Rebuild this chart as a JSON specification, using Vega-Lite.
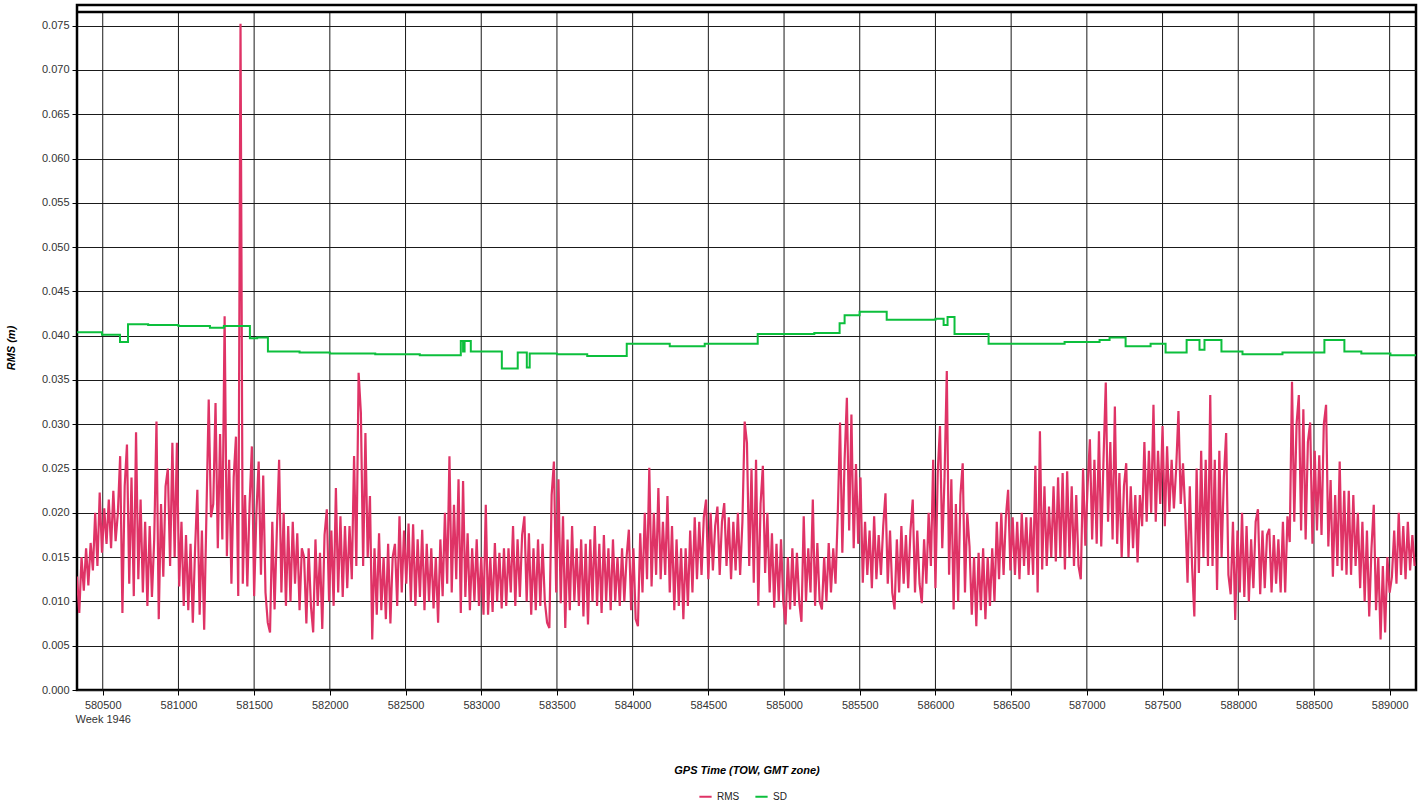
{
  "$schema": "https://vega.github.io/schema/vega-lite/v6.json",
  "width": 1339,
  "height": 685,
  "autosize": "none",
  "padding": {"left": 77, "top": 5, "right": 9, "bottom": 114},
  "background": "white",
  "config": {
    "font": "Liberation Sans",
    "view": {"stroke": "#000000", "strokeWidth": 2.5},
    "axisX": {
      "titleFontStyle": "italic", "titleFontWeight": "bold", "titleFontSize": 11, "titleColor": "#000000", "titlePadding": 40,
      "labelFontSize": 11, "labelColor": "#333333", "labelFlush": false, "labelOverlap": false, "labelPadding": 4, "labelLineHeight": 14,
      "tickSize": 5, "tickColor": "#000000", "domain": false, "grid": false
    },
    "axisY": {
      "titleFontStyle": "italic", "titleFontWeight": "bold", "titleFontSize": 11, "titleColor": "#000000", "titlePadding": 25,
      "labelFontSize": 11, "labelColor": "#333333", "labelPadding": 3,
      "tickSize": 5, "tickColor": "#000000", "domain": false,
      "grid": true, "gridColor": "#1a1a1a", "gridWidth": 1
    }
  },
  "datasets": {
    "grid": [{"t":580500},{"t":581000},{"t":581500},{"t":582000},{"t":582500},{"t":583000},{"t":583500},{"t":584000},{"t":584500},{"t":585000},{"t":585500},{"t":586000},{"t":586500},{"t":587000},{"t":587500},{"t":588000},{"t":588500},{"t":589000}],
    "sd": [
      {"t":580330,"v":0.0404},{"t":580495,"v":0.0401},{"t":580614,"v":0.0393},{"t":580667,"v":0.0413},{"t":580800,"v":0.0412},{"t":581000,"v":0.0411},{"t":581208,"v":0.0409},{"t":581300,"v":0.0411},{"t":581472,"v":0.0397},{"t":581520,"v":0.0398},{"t":581591,"v":0.0382},{"t":581800,"v":0.0381},{"t":582000,"v":0.0380},{"t":582300,"v":0.0379},{"t":582594,"v":0.0378},{"t":582865,"v":0.0394},{"t":582880,"v":0.0382},{"t":582890,"v":0.0394},{"t":582931,"v":0.0382},{"t":583136,"v":0.0363},{"t":583241,"v":0.0381},{"t":583301,"v":0.0364},{"t":583320,"v":0.0380},{"t":583500,"v":0.0379},{"t":583700,"v":0.0377},{"t":583961,"v":0.0391},{"t":584245,"v":0.0388},{"t":584476,"v":0.0391},{"t":584826,"v":0.0402},{"t":585200,"v":0.0403},{"t":585367,"v":0.0414},{"t":585400,"v":0.0423},{"t":585499,"v":0.0427},{"t":585678,"v":0.0418},{"t":586000,"v":0.0419},{"t":586054,"v":0.0412},{"t":586080,"v":0.0421},{"t":586126,"v":0.0402},{"t":586351,"v":0.0391},{"t":586853,"v":0.0393},{"t":587084,"v":0.0395},{"t":587150,"v":0.0398},{"t":587256,"v":0.0388},{"t":587421,"v":0.0391},{"t":587520,"v":0.0381},{"t":587659,"v":0.0395},{"t":587744,"v":0.0384},{"t":587777,"v":0.0395},{"t":587889,"v":0.0382},{"t":588028,"v":0.0379},{"t":588292,"v":0.0381},{"t":588569,"v":0.0395},{"t":588701,"v":0.0382},{"t":588813,"v":0.0380},{"t":589005,"v":0.0378},{"t":589174,"v":0.0378}
    ],
    "rms": [
      {"t":580330,"v":0.0128},{"t":580345,"v":0.0087},{"t":580360,"v":0.0150},{"t":580375,"v":0.0112},{"t":580390,"v":0.0160},{"t":580405,"v":0.0118},{"t":580420,"v":0.0166},{"t":580435,"v":0.0135},{"t":580450,"v":0.0200},{"t":580465,"v":0.0140},
      {"t":580480,"v":0.0223},{"t":580495,"v":0.0155},{"t":580510,"v":0.0205},{"t":580525,"v":0.0165},{"t":580540,"v":0.0215},{"t":580555,"v":0.0160},{"t":580570,"v":0.0225},{"t":580585,"v":0.0168},{"t":580600,"v":0.0200},{"t":580615,"v":0.0264},
      {"t":580630,"v":0.0087},{"t":580645,"v":0.0230},{"t":580660,"v":0.0277},{"t":580675,"v":0.0120},{"t":580690,"v":0.0240},{"t":580705,"v":0.0106},{"t":580720,"v":0.0291},{"t":580735,"v":0.0125},{"t":580750,"v":0.0215},{"t":580765,"v":0.0110},
      {"t":580780,"v":0.0190},{"t":580795,"v":0.0095},{"t":580810,"v":0.0185},{"t":580825,"v":0.0105},{"t":580840,"v":0.0170},{"t":580855,"v":0.0303},{"t":580870,"v":0.0080},{"t":580885,"v":0.0210},{"t":580900,"v":0.0128},{"t":580915,"v":0.0230},
      {"t":580930,"v":0.0250},{"t":580945,"v":0.0140},{"t":580960,"v":0.0279},{"t":580975,"v":0.0150},{"t":580990,"v":0.0279},{"t":581005,"v":0.0117},{"t":581020,"v":0.0190},{"t":581035,"v":0.0095},{"t":581050,"v":0.0175},{"t":581065,"v":0.0090},
      {"t":581080,"v":0.0165},{"t":581095,"v":0.0076},{"t":581110,"v":0.0160},{"t":581125,"v":0.0226},{"t":581140,"v":0.0085},{"t":581155,"v":0.0180},{"t":581170,"v":0.0068},{"t":581185,"v":0.0200},{"t":581200,"v":0.0328},{"t":581215,"v":0.0195},
      {"t":581230,"v":0.0210},{"t":581245,"v":0.0324},{"t":581260,"v":0.0160},{"t":581275,"v":0.0289},{"t":581290,"v":0.0170},{"t":581305,"v":0.0422},{"t":581320,"v":0.0151},{"t":581335,"v":0.0260},{"t":581350,"v":0.0120},{"t":581365,"v":0.0240},
      {"t":581380,"v":0.0286},{"t":581395,"v":0.0106},{"t":581410,"v":0.0752},{"t":581425,"v":0.0120},{"t":581440,"v":0.0220},{"t":581455,"v":0.0117},{"t":581470,"v":0.0210},{"t":581485,"v":0.0275},{"t":581500,"v":0.0106},{"t":581515,"v":0.0200},
      {"t":581530,"v":0.0258},{"t":581545,"v":0.0130},{"t":581560,"v":0.0242},{"t":581575,"v":0.0110},{"t":581590,"v":0.0076},{"t":581605,"v":0.0065},{"t":581620,"v":0.0190},{"t":581635,"v":0.0091},{"t":581650,"v":0.0180},{"t":581665,"v":0.0260},
      {"t":581680,"v":0.0110},{"t":581695,"v":0.0200},{"t":581710,"v":0.0095},{"t":581725,"v":0.0185},{"t":581740,"v":0.0100},{"t":581755,"v":0.0190},{"t":581770,"v":0.0120},{"t":581785,"v":0.0177},{"t":581800,"v":0.0090},{"t":581815,"v":0.0160},
      {"t":581830,"v":0.0150},{"t":581845,"v":0.0075},{"t":581860,"v":0.0160},{"t":581875,"v":0.0095},{"t":581890,"v":0.0065},{"t":581905,"v":0.0170},{"t":581920,"v":0.0095},{"t":581935,"v":0.0155},{"t":581950,"v":0.0069},{"t":581965,"v":0.0175},
      {"t":581980,"v":0.0204},{"t":581995,"v":0.0100},{"t":582010,"v":0.0180},{"t":582025,"v":0.0095},{"t":582040,"v":0.0228},{"t":582055,"v":0.0110},{"t":582070,"v":0.0196},{"t":582085,"v":0.0105},{"t":582100,"v":0.0185},{"t":582115,"v":0.0115},
      {"t":582130,"v":0.0185},{"t":582145,"v":0.0125},{"t":582160,"v":0.0264},{"t":582175,"v":0.0140},{"t":582190,"v":0.0358},{"t":582205,"v":0.0313},{"t":582220,"v":0.0140},{"t":582235,"v":0.0290},{"t":582250,"v":0.0150},{"t":582265,"v":0.0219},
      {"t":582280,"v":0.0057},{"t":582295,"v":0.0160},{"t":582310,"v":0.0085},{"t":582325,"v":0.0177},{"t":582340,"v":0.0090},{"t":582355,"v":0.0150},{"t":582370,"v":0.0080},{"t":582385,"v":0.0165},{"t":582400,"v":0.0075},{"t":582415,"v":0.0150},
      {"t":582430,"v":0.0165},{"t":582445,"v":0.0095},{"t":582460,"v":0.0196},{"t":582475,"v":0.0110},{"t":582490,"v":0.0180},{"t":582505,"v":0.0120},{"t":582520,"v":0.0188},{"t":582535,"v":0.0100},{"t":582550,"v":0.0187},{"t":582565,"v":0.0095},
      {"t":582580,"v":0.0170},{"t":582595,"v":0.0105},{"t":582610,"v":0.0181},{"t":582625,"v":0.0090},{"t":582640,"v":0.0165},{"t":582655,"v":0.0100},{"t":582670,"v":0.0160},{"t":582685,"v":0.0092},{"t":582700,"v":0.0150},{"t":582715,"v":0.0076},
      {"t":582730,"v":0.0170},{"t":582745,"v":0.0106},{"t":582760,"v":0.0200},{"t":582775,"v":0.0120},{"t":582790,"v":0.0264},{"t":582805,"v":0.0110},{"t":582820,"v":0.0209},{"t":582835,"v":0.0125},{"t":582850,"v":0.0238},{"t":582865,"v":0.0087},
      {"t":582880,"v":0.0236},{"t":582895,"v":0.0105},{"t":582910,"v":0.0177},{"t":582925,"v":0.0090},{"t":582940,"v":0.0160},{"t":582955,"v":0.0100},{"t":582970,"v":0.0170},{"t":582985,"v":0.0095},{"t":583000,"v":0.0150},{"t":583015,"v":0.0085},
      {"t":583030,"v":0.0209},{"t":583045,"v":0.0085},{"t":583060,"v":0.0150},{"t":583075,"v":0.0088},{"t":583090,"v":0.0166},{"t":583105,"v":0.0100},{"t":583120,"v":0.0155},{"t":583135,"v":0.0092},{"t":583150,"v":0.0160},{"t":583165,"v":0.0095},
      {"t":583180,"v":0.0160},{"t":583195,"v":0.0110},{"t":583210,"v":0.0185},{"t":583225,"v":0.0095},{"t":583240,"v":0.0170},{"t":583255,"v":0.0105},{"t":583270,"v":0.0175},{"t":583285,"v":0.0196},{"t":583300,"v":0.0100},{"t":583315,"v":0.0177},
      {"t":583330,"v":0.0085},{"t":583345,"v":0.0160},{"t":583360,"v":0.0090},{"t":583375,"v":0.0170},{"t":583390,"v":0.0095},{"t":583405,"v":0.0165},{"t":583420,"v":0.0100},{"t":583435,"v":0.0076},{"t":583450,"v":0.0070},{"t":583465,"v":0.0220},
      {"t":583480,"v":0.0258},{"t":583495,"v":0.0110},{"t":583510,"v":0.0238},{"t":583525,"v":0.0098},{"t":583540,"v":0.0196},{"t":583555,"v":0.0070},{"t":583570,"v":0.0170},{"t":583585,"v":0.0090},{"t":583600,"v":0.0185},{"t":583615,"v":0.0100},
      {"t":583630,"v":0.0160},{"t":583645,"v":0.0095},{"t":583660,"v":0.0170},{"t":583675,"v":0.0083},{"t":583690,"v":0.0165},{"t":583705,"v":0.0074},{"t":583720,"v":0.0170},{"t":583735,"v":0.0100},{"t":583750,"v":0.0185},{"t":583765,"v":0.0095},
      {"t":583780,"v":0.0165},{"t":583795,"v":0.0087},{"t":583810,"v":0.0175},{"t":583825,"v":0.0100},{"t":583840,"v":0.0160},{"t":583855,"v":0.0090},{"t":583870,"v":0.0170},{"t":583885,"v":0.0100},{"t":583900,"v":0.0150},{"t":583915,"v":0.0095},
      {"t":583930,"v":0.0160},{"t":583945,"v":0.0100},{"t":583960,"v":0.0150},{"t":583975,"v":0.0181},{"t":583990,"v":0.0090},{"t":584005,"v":0.0160},{"t":584020,"v":0.0080},{"t":584035,"v":0.0072},{"t":584050,"v":0.0177},{"t":584065,"v":0.0110},
      {"t":584080,"v":0.0200},{"t":584095,"v":0.0125},{"t":584110,"v":0.0251},{"t":584125,"v":0.0117},{"t":584140,"v":0.0200},{"t":584155,"v":0.0130},{"t":584170,"v":0.0228},{"t":584185,"v":0.0125},{"t":584200,"v":0.0190},{"t":584215,"v":0.0130},
      {"t":584230,"v":0.0219},{"t":584245,"v":0.0110},{"t":584260,"v":0.0185},{"t":584275,"v":0.0090},{"t":584290,"v":0.0170},{"t":584305,"v":0.0095},{"t":584320,"v":0.0160},{"t":584335,"v":0.0080},{"t":584350,"v":0.0160},{"t":584365,"v":0.0095},
      {"t":584380,"v":0.0180},{"t":584395,"v":0.0110},{"t":584410,"v":0.0195},{"t":584425,"v":0.0125},{"t":584440,"v":0.0190},{"t":584455,"v":0.0130},{"t":584470,"v":0.0195},{"t":584485,"v":0.0215},{"t":584500,"v":0.0125},{"t":584515,"v":0.0200},
      {"t":584530,"v":0.0135},{"t":584545,"v":0.0185},{"t":584560,"v":0.0207},{"t":584575,"v":0.0130},{"t":584590,"v":0.0190},{"t":584605,"v":0.0211},{"t":584620,"v":0.0140},{"t":584635,"v":0.0195},{"t":584650,"v":0.0125},{"t":584665,"v":0.0190},
      {"t":584680,"v":0.0135},{"t":584695,"v":0.0200},{"t":584710,"v":0.0130},{"t":584725,"v":0.0190},{"t":584740,"v":0.0303},{"t":584755,"v":0.0279},{"t":584770,"v":0.0140},{"t":584785,"v":0.0250},{"t":584800,"v":0.0121},{"t":584815,"v":0.0260},
      {"t":584830,"v":0.0095},{"t":584845,"v":0.0210},{"t":584860,"v":0.0253},{"t":584875,"v":0.0132},{"t":584890,"v":0.0200},{"t":584905,"v":0.0110},{"t":584920,"v":0.0177},{"t":584935,"v":0.0093},{"t":584950,"v":0.0165},{"t":584965,"v":0.0100},
      {"t":584980,"v":0.0170},{"t":584995,"v":0.0100},{"t":585010,"v":0.0074},{"t":585025,"v":0.0150},{"t":585040,"v":0.0091},{"t":585055,"v":0.0160},{"t":585070,"v":0.0095},{"t":585085,"v":0.0155},{"t":585100,"v":0.0100},{"t":585115,"v":0.0077},
      {"t":585130,"v":0.0196},{"t":585145,"v":0.0100},{"t":585160,"v":0.0160},{"t":585175,"v":0.0110},{"t":585190,"v":0.0215},{"t":585205,"v":0.0095},{"t":585220,"v":0.0166},{"t":585235,"v":0.0100},{"t":585250,"v":0.0091},{"t":585265,"v":0.0150},
      {"t":585280,"v":0.0100},{"t":585295,"v":0.0166},{"t":585310,"v":0.0110},{"t":585325,"v":0.0160},{"t":585340,"v":0.0120},{"t":585355,"v":0.0200},{"t":585370,"v":0.0302},{"t":585385,"v":0.0155},{"t":585400,"v":0.0260},{"t":585415,"v":0.0330},
      {"t":585430,"v":0.0180},{"t":585445,"v":0.0311},{"t":585460,"v":0.0160},{"t":585475,"v":0.0255},{"t":585490,"v":0.0165},{"t":585505,"v":0.0240},{"t":585520,"v":0.0121},{"t":585535,"v":0.0190},{"t":585550,"v":0.0130},{"t":585565,"v":0.0180},
      {"t":585580,"v":0.0115},{"t":585595,"v":0.0196},{"t":585610,"v":0.0125},{"t":585625,"v":0.0175},{"t":585640,"v":0.0130},{"t":585655,"v":0.0185},{"t":585670,"v":0.0222},{"t":585685,"v":0.0120},{"t":585700,"v":0.0180},{"t":585715,"v":0.0110},
      {"t":585730,"v":0.0091},{"t":585745,"v":0.0170},{"t":585760,"v":0.0110},{"t":585775,"v":0.0185},{"t":585790,"v":0.0120},{"t":585805,"v":0.0175},{"t":585820,"v":0.0115},{"t":585835,"v":0.0180},{"t":585850,"v":0.0215},{"t":585865,"v":0.0110},
      {"t":585880,"v":0.0180},{"t":585895,"v":0.0120},{"t":585910,"v":0.0098},{"t":585925,"v":0.0170},{"t":585940,"v":0.0120},{"t":585955,"v":0.0200},{"t":585970,"v":0.0140},{"t":585985,"v":0.0260},{"t":586000,"v":0.0115},{"t":586015,"v":0.0245},
      {"t":586030,"v":0.0298},{"t":586045,"v":0.0160},{"t":586060,"v":0.0240},{"t":586075,"v":0.0360},{"t":586090,"v":0.0130},{"t":586105,"v":0.0238},{"t":586120,"v":0.0091},{"t":586135,"v":0.0210},{"t":586150,"v":0.0100},{"t":586165,"v":0.0220},
      {"t":586180,"v":0.0256},{"t":586195,"v":0.0110},{"t":586210,"v":0.0200},{"t":586225,"v":0.0162},{"t":586240,"v":0.0085},{"t":586255,"v":0.0150},{"t":586270,"v":0.0072},{"t":586285,"v":0.0155},{"t":586300,"v":0.0090},{"t":586315,"v":0.0160},
      {"t":586330,"v":0.0080},{"t":586345,"v":0.0150},{"t":586360,"v":0.0095},{"t":586375,"v":0.0160},{"t":586390,"v":0.0100},{"t":586405,"v":0.0190},{"t":586420,"v":0.0125},{"t":586435,"v":0.0200},{"t":586450,"v":0.0130},{"t":586465,"v":0.0195},
      {"t":586480,"v":0.0226},{"t":586495,"v":0.0135},{"t":586510,"v":0.0195},{"t":586525,"v":0.0130},{"t":586540,"v":0.0190},{"t":586555,"v":0.0125},{"t":586570,"v":0.0200},{"t":586585,"v":0.0140},{"t":586600,"v":0.0195},{"t":586615,"v":0.0130},
      {"t":586630,"v":0.0195},{"t":586645,"v":0.0130},{"t":586660,"v":0.0253},{"t":586675,"v":0.0110},{"t":586690,"v":0.0292},{"t":586705,"v":0.0136},{"t":586720,"v":0.0230},{"t":586735,"v":0.0140},{"t":586750,"v":0.0207},{"t":586765,"v":0.0150},
      {"t":586780,"v":0.0230},{"t":586795,"v":0.0145},{"t":586810,"v":0.0240},{"t":586825,"v":0.0150},{"t":586840,"v":0.0245},{"t":586855,"v":0.0136},{"t":586870,"v":0.0247},{"t":586885,"v":0.0150},{"t":586900,"v":0.0230},{"t":586915,"v":0.0140},
      {"t":586930,"v":0.0220},{"t":586945,"v":0.0140},{"t":586960,"v":0.0125},{"t":586975,"v":0.0250},{"t":586990,"v":0.0163},{"t":587005,"v":0.0230},{"t":587020,"v":0.0283},{"t":587035,"v":0.0170},{"t":587050,"v":0.0260},{"t":587065,"v":0.0165},
      {"t":587080,"v":0.0292},{"t":587095,"v":0.0162},{"t":587110,"v":0.0260},{"t":587125,"v":0.0347},{"t":587140,"v":0.0190},{"t":587155,"v":0.0280},{"t":587170,"v":0.0170},{"t":587185,"v":0.0320},{"t":587200,"v":0.0165},{"t":587215,"v":0.0245},
      {"t":587230,"v":0.0150},{"t":587245,"v":0.0230},{"t":587260,"v":0.0256},{"t":587275,"v":0.0150},{"t":587290,"v":0.0230},{"t":587305,"v":0.0160},{"t":587320,"v":0.0220},{"t":587335,"v":0.0144},{"t":587350,"v":0.0220},{"t":587365,"v":0.0185},
      {"t":587380,"v":0.0280},{"t":587395,"v":0.0190},{"t":587410,"v":0.0270},{"t":587425,"v":0.0200},{"t":587440,"v":0.0322},{"t":587455,"v":0.0190},{"t":587470,"v":0.0270},{"t":587485,"v":0.0210},{"t":587500,"v":0.0298},{"t":587515,"v":0.0185},
      {"t":587530,"v":0.0275},{"t":587545,"v":0.0201},{"t":587560,"v":0.0260},{"t":587575,"v":0.0205},{"t":587590,"v":0.0250},{"t":587605,"v":0.0315},{"t":587620,"v":0.0210},{"t":587635,"v":0.0256},{"t":587650,"v":0.0200},{"t":587665,"v":0.0121},
      {"t":587680,"v":0.0230},{"t":587695,"v":0.0140},{"t":587710,"v":0.0083},{"t":587725,"v":0.0250},{"t":587740,"v":0.0132},{"t":587755,"v":0.0270},{"t":587770,"v":0.0150},{"t":587785,"v":0.0260},{"t":587800,"v":0.0140},{"t":587815,"v":0.0333},
      {"t":587830,"v":0.0140},{"t":587845,"v":0.0260},{"t":587860,"v":0.0113},{"t":587875,"v":0.0270},{"t":587890,"v":0.0150},{"t":587905,"v":0.0240},{"t":587920,"v":0.0290},{"t":587935,"v":0.0130},{"t":587950,"v":0.0108},{"t":587965,"v":0.0190},
      {"t":587980,"v":0.0079},{"t":587995,"v":0.0180},{"t":588010,"v":0.0110},{"t":588025,"v":0.0200},{"t":588040,"v":0.0105},{"t":588055,"v":0.0185},{"t":588070,"v":0.0100},{"t":588085,"v":0.0170},{"t":588100,"v":0.0115},{"t":588115,"v":0.0190},
      {"t":588130,"v":0.0204},{"t":588145,"v":0.0108},{"t":588160,"v":0.0180},{"t":588175,"v":0.0115},{"t":588190,"v":0.0175},{"t":588205,"v":0.0182},{"t":588220,"v":0.0110},{"t":588235,"v":0.0175},{"t":588250,"v":0.0120},{"t":588265,"v":0.0170},
      {"t":588280,"v":0.0110},{"t":588295,"v":0.0190},{"t":588310,"v":0.0110},{"t":588325,"v":0.0196},{"t":588340,"v":0.0167},{"t":588355,"v":0.0348},{"t":588370,"v":0.0190},{"t":588385,"v":0.0300},{"t":588400,"v":0.0333},{"t":588415,"v":0.0180},
      {"t":588430,"v":0.0317},{"t":588445,"v":0.0170},{"t":588460,"v":0.0280},{"t":588475,"v":0.0302},{"t":588490,"v":0.0165},{"t":588505,"v":0.0270},{"t":588520,"v":0.0180},{"t":588535,"v":0.0265},{"t":588550,"v":0.0175},{"t":588565,"v":0.0300},
      {"t":588580,"v":0.0322},{"t":588595,"v":0.0162},{"t":588610,"v":0.0237},{"t":588625,"v":0.0128},{"t":588640,"v":0.0220},{"t":588655,"v":0.0140},{"t":588670,"v":0.0258},{"t":588685,"v":0.0135},{"t":588700,"v":0.0225},{"t":588715,"v":0.0130},
      {"t":588730,"v":0.0225},{"t":588745,"v":0.0130},{"t":588760,"v":0.0220},{"t":588775,"v":0.0140},{"t":588790,"v":0.0200},{"t":588805,"v":0.0115},{"t":588820,"v":0.0190},{"t":588835,"v":0.0100},{"t":588850,"v":0.0180},{"t":588865,"v":0.0083},
      {"t":588880,"v":0.0160},{"t":588895,"v":0.0209},{"t":588910,"v":0.0090},{"t":588925,"v":0.0150},{"t":588940,"v":0.0057},{"t":588955,"v":0.0140},{"t":588970,"v":0.0065},{"t":588985,"v":0.0150},{"t":589000,"v":0.0110},{"t":589015,"v":0.0128},
      {"t":589030,"v":0.0180},{"t":589045,"v":0.0120},{"t":589060,"v":0.0200},{"t":589075,"v":0.0130},{"t":589090,"v":0.0185},{"t":589105,"v":0.0125},{"t":589120,"v":0.0190},{"t":589135,"v":0.0135},{"t":589150,"v":0.0175},{"t":589165,"v":0.0140}
    ]
  },
  "layer": [
    {
      "data": {"name": "grid"},
      "mark": {"type": "rule", "color": "#1a1a1a", "strokeWidth": 1},
      "encoding": {
        "x": {"field": "t", "type": "quantitative", "title": "GPS Time (TOW, GMT zone)"},
        "y": {"datum": 0, "type": "quantitative", "title": "RMS (m)"},
        "y2": {"datum": 0.07655}
      }
    },
    {
      "data": {"values": [{"top": 0.07655}]},
      "mark": {"type": "rule", "color": "#000000", "strokeWidth": 2.5},
      "encoding": {
        "y": {"field": "top", "type": "quantitative", "title": "RMS (m)"}
      }
    },
    {
      "data": {"name": "rms"},
      "mark": {"type": "line", "strokeWidth": 2.2, "clip": true},
      "encoding": {
        "x": {
          "field": "t", "type": "quantitative", "title": "GPS Time (TOW, GMT zone)",
          "scale": {"domain": [580330, 589174], "nice": false, "zero": false},
          "axis": {
            "values": [580500,581000,581500,582000,582500,583000,583500,584000,584500,585000,585500,586000,586500,587000,587500,588000,588500,589000],
            "format": "d",
            "labelExpr": "datum.value == 580500 ? ['580500', 'Week 1946'] : datum.label",
            "grid": false
          }
        },
        "y": {
          "field": "v", "type": "quantitative", "title": "RMS (m)",
          "scale": {"domain": [0, 0.07733], "nice": false, "zero": true},
          "axis": {
            "values": [0,0.005,0.01,0.015,0.02,0.025,0.03,0.035,0.04,0.045,0.05,0.055,0.06,0.065,0.07,0.075],
            "format": ".3f",
            "grid": true
          }
        },
        "color": {
          "datum": "RMS",
          "scale": {"domain": ["RMS", "SD"], "range": ["#DF3366", "#0CBF3C"]},
          "legend": {
            "title": null, "orient": "none", "legendX": 621, "legendY": 784, "direction": "horizontal",
            "symbolType": "stroke", "symbolSize": 150, "symbolStrokeWidth": 2,
            "labelFontSize": 10, "labelColor": "#222222", "columnPadding": 11
          }
        }
      }
    },
    {
      "data": {"name": "sd"},
      "mark": {"type": "line", "interpolate": "step-after", "strokeWidth": 2, "clip": true},
      "encoding": {
        "x": {"field": "t", "type": "quantitative", "title": "GPS Time (TOW, GMT zone)"},
        "y": {"field": "v", "type": "quantitative", "title": "RMS (m)"},
        "color": {"datum": "SD"}
      }
    }
  ]
}
